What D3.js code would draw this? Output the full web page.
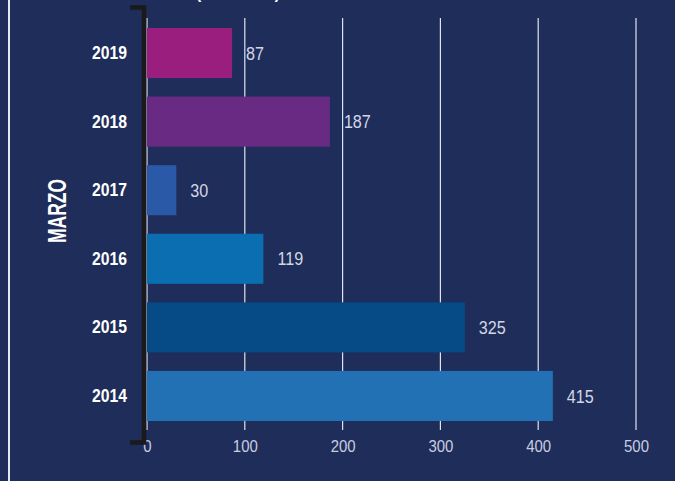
<!DOCTYPE html>
<html>
<head>
<meta charset="utf-8">
<script src="https://cdn.jsdelivr.net/npm/d3@7"></script>
<style>
  body { margin: 0; background: #1f2d5a; }
  svg { display: block; }
</style>
</head>
<body>
<script>
// data
const years = ['2019', '2018', '2017', '2016', '2015', '2014'];
const values = [87, 187, 30, 119, 325, 415];
const colors = ['#991e7e', '#692a84', '#2959a7', '#0a6eb0', '#064a86', '#2271b4'];
const ticks = [0, 100, 200, 300, 400, 500];

const svgWidth = 675, svgHeight = 481;
// condensed look: Liberation Sans squeezed horizontally
const font = "'Liberation Sans', Arial, sans-serif";

const svg = d3.select('body').append('svg')
  .attr('width', svgWidth)
  .attr('height', svgHeight);

svg.append('rect')
  .attr('width', svgWidth)
  .attr('height', svgHeight)
  .attr('fill', '#1f2d5a');

// left white frame line
svg.append('line')
  .attr('x1', 9).attr('x2', 9)
  .attr('y1', 0).attr('y2', svgHeight)
  .attr('stroke', '#e6e9f1')
  .attr('stroke-width', 2);

// title, cut off at the top edge like the original
svg.append('text')
  .attr('transform', 'translate(196,-2) scale(0.82,1)')
  .attr('font-family', font)
  .attr('font-weight', 'bold')
  .attr('font-size', 19)
  .attr('fill', '#ffffff')
  .text('(EN MILES)');

// scales
const x = d3.scaleLinear().domain([0, 500]).range([147, 636]);
const y = d3.scaleBand().domain(years).range([28, 421]).paddingInner(0.27).paddingOuter(0);

// gridlines
svg.append('g').selectAll('line').data(ticks).enter().append('line')
  .attr('x1', d => x(d)).attr('x2', d => x(d))
  .attr('y1', 18).attr('y2', 430)
  .attr('stroke', '#dfe3ee')
  .attr('stroke-width', 1.2);

// x axis labels
const xAxis = svg.append('g')
  .attr('transform', 'translate(0,430)')
  .call(d3.axisBottom(x).tickValues(ticks).tickSize(0).tickPadding(10));
xAxis.select('.domain').remove();
xAxis.selectAll('text')
  .attr('transform', 'scale(0.88,1)')
  .attr('font-family', font)
  .attr('font-size', 17)
  .attr('fill', '#c9cde0');

// bars
const bars = svg.append('g').selectAll('g').data(years).enter().append('g');

bars.append('rect')
  .attr('x', x(0))
  .attr('y', d => y(d))
  .attr('width', (d, i) => x(values[i]) - x(0))
  .attr('height', y.bandwidth())
  .attr('fill', (d, i) => colors[i]);

bars.append('text')
  .attr('transform', (d, i) => `translate(${x(values[i]) + 14},${y(d) + y.bandwidth() / 2}) scale(0.85,1)`)
  .attr('dy', '0.35em')
  .attr('font-family', font)
  .attr('font-size', 19)
  .attr('fill', '#d3d7e4')
  .text((d, i) => values[i]);

// y axis labels
const yAxis = svg.append('g')
  .attr('transform', 'translate(146,0)')
  .call(d3.axisLeft(y).tickSize(0));
yAxis.select('.domain').remove();
yAxis.selectAll('text')
  .attr('x', -19 / 0.83)
  .attr('transform', 'scale(0.83,1)')
  .attr('font-family', font)
  .attr('font-weight', 'bold')
  .attr('font-size', 19)
  .attr('fill', '#ffffff');

// black bracket
svg.append('path')
  .attr('d', 'M130,7.5 H144 V442.5 H130')
  .attr('fill', 'none')
  .attr('stroke', '#1a1a1a')
  .attr('stroke-width', 4.5);

// axis title
svg.append('text')
  .attr('transform', 'translate(57.5,211) rotate(-90) scale(0.7,1)')
  .attr('text-anchor', 'middle')
  .attr('dy', '0.35em')
  .attr('font-family', font)
  .attr('font-weight', 'bold')
  .attr('font-size', 25)
  .attr('fill', '#ffffff')
  .text('MARZO');
</script>
</body>
</html>
